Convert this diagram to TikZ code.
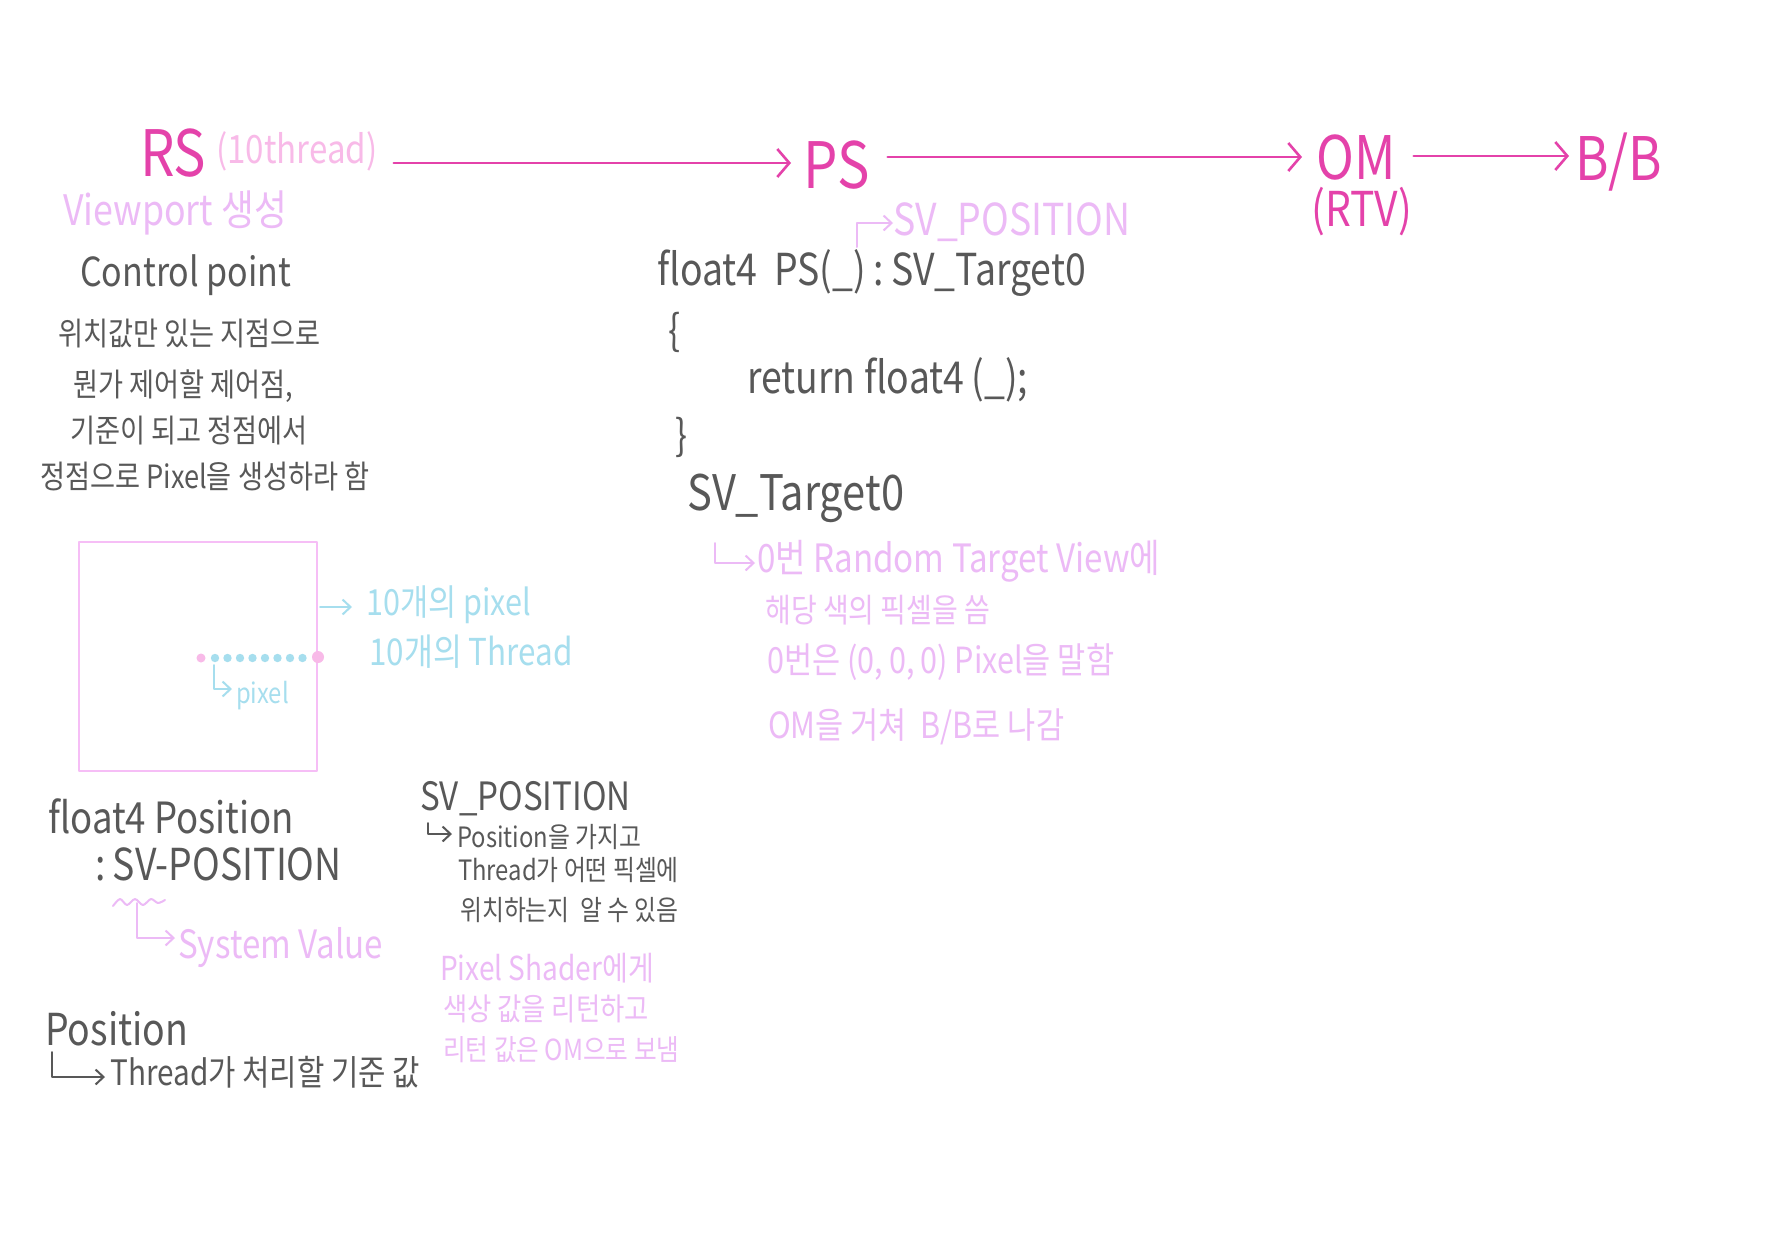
\documentclass[tikz,border=0pt]{standalone}
\usepackage{fontspec}
\setmainfont{Noto Sans CJK KR}[FakeStretch=0.85]
\usetikzlibrary{arrows.meta}
\newcommand\fsz[1]{\fontsize{#1}{#1}\selectfont}
\begin{document}
\begin{tikzpicture}[x=1pt,y=-1pt,line cap=round,line join=round,
  txt/.style={inner sep=0pt,anchor=base west},
  flow/.style={mag,line width=2.6pt,-{Straight Barb[length=12pt,width=28pt]}},
  note/.style={line width=2pt,-{Straight Barb[length=8pt,width=15pt]}}]
  \definecolor{mag}{RGB}{228,66,170}
  \definecolor{pinkl}{RGB}{248,186,232}
  \definecolor{lav}{RGB}{236,186,246}
  \definecolor{ink}{RGB}{88,88,88}
  \definecolor{sky}{RGB}{166,222,238}
  \definecolor{boxc}{RGB}{246,190,246}

  \fill[white] (0,0) rectangle (1784,1250);
  \useasboundingbox (0,0) rectangle (1784,1250);

  % ---- pipeline ----
  \node[txt,mag] (rs) at (140,176) {\fsz{64}RS};
  \node[txt,pinkl] (thr) at (216,163) {\fsz{39}(10thread)};
  \node[txt,mag] (ps) at (803,188) {\fsz{64}PS};
  \node[txt,mag] (om) at (1316,179) {\fsz{60}OM};
  \node[txt,mag] (rtv) at (1311,226) {\fsz{48}(RTV)};
  \node[txt,mag] (bb) at (1575,180) {\fsz{60}B/B};
  \draw[flow] ([xshift=16pt]thr.east |- 0,163) -- ([xshift=-12pt]ps.west |- 0,163);
  \draw[flow] ([xshift=18pt]ps.east |- 0,157) -- ([xshift=-14pt]om.west |- 0,157);
  \draw[flow] ([xshift=18pt]om.east |- 0,156) -- ([xshift=-6pt]bb.west |- 0,156);

  \node[txt,lav] (vp) at (63,225) {\fsz{42}Viewport 생성};
  \node[txt,lav] (svpos) at (893,235) {\fsz{44}SV\_POSITION};
  \draw[lav,note] (857,247) -- (857,223) -- (svpos.west |- 0,223);

  % ---- control point ----
  \node[txt,ink] (cp) at (80,286) {\fsz{40}Control point};
  \node[txt,ink] (cp1) at (58,345) {\fsz{32}위치값만 있는 지점으로};
  \node[txt,ink] (cp2) at (73,396) {\fsz{32}뭔가 제어할 제어점,};
  \node[txt,ink] (cp3) at (70,442) {\fsz{32}기준이 되고 정점에서};
  \node[txt,ink] (cp4) at (40,488) {\fsz{32}정점으로 Pixel을 생성하라 함};

  % ---- pixel shader code ----
  \node[txt,ink] (sig) at (657,285) {\fsz{44}float4~~PS(\_)\,:\,SV\_Target0};
  \node[txt,ink] (lb) at (668,345) {\fsz{42}\{};
  \node[txt,ink] (ret) at (747,393) {\fsz{44}return~float4\,(\_);};
  \node[txt,ink] (rb) at (675,450) {\fsz{42}\}};
  \node[txt,ink] (tgt) at (687,510) {\fsz{49}SV\_Target0};

  \draw[lav,note] (715,543) -- (715,563) -- (755,563);
  \node[txt,lav] (rt1) at (757,572) {\fsz{39}0번 Random Target View에};
  \node[txt,lav] (rt2) at (765,622) {\fsz{33}해당 색의 픽셀을 씀};
  \node[txt,lav] (rt3) at (767,673) {\fsz{36}0번은 (0,\,0,\,0) Pixel을 말함};
  \node[txt,lav] (rt4) at (768,738) {\fsz{36}OM을 거쳐~~B/B로 나감};

  % ---- viewport box ----
  \draw[boxc,line width=2pt] (79,542) rectangle (317,771);
  \fill[pinkl] (201,658) circle (4.5);
  \fill[pinkl] (318,657) circle (6);
  \foreach \x in {215,227.5,...,303} {
    \fill[sky] (\x,658) circle (4.2);
  }
  \draw[sky,note] (214,665) -- (214,689) -- (232,689);
  \node[txt,sky] (px) at (236,703) {\fsz{28}pixel};
  \draw[sky,note] (320,607) -- (352,607);
  \node[txt,sky] (np) at (366,615) {\fsz{36}10개의 pixel};
  \node[txt,sky] (nt) at (369,665) {\fsz{37}10개의 Thread};

  % ---- position notes ----
  \node[txt,ink] (fpos) at (48,833) {\fsz{43}float4 Position};
  \node[txt,ink] (svp) at (95,880) {\fsz{44}:\,SV-POSITION};
  \draw[lav,line width=2pt] plot[smooth] coordinates {(113,906) (120,899) (127,905) (135,899) (143,905) (151,899) (158,903) (165,900)};
  \draw[lav,note] (137,903) -- (137,938) -- (175,938);
  \node[txt,lav] (sysv) at (178,958) {\fsz{39}System Value};

  \node[txt,ink] (pos) at (45,1045) {\fsz{44}Position};
  \draw[ink,note] (52,1052) -- (52,1077) -- (105,1077);
  \node[txt,ink] (posd) at (110,1085) {\fsz{35}Thread가 처리할 기준 값};

  \node[txt,ink] (svp2) at (420,810) {\fsz{39}SV\_POSITION};
  \draw[ink,note] (428,823) -- (428,834) -- (452,834);
  \node[txt,ink] (sv1) at (457,847) {\fsz{28}Position을 가지고};
  \node[txt,ink] (sv2) at (458,880) {\fsz{28}Thread가 어떤 픽셀에};
  \node[txt,ink] (sv3) at (460,920) {\fsz{28}위치하는지~~알 수 있음};

  \node[txt,lav] (psh1) at (440,980) {\fsz{33}Pixel Shader에게};
  \node[txt,lav] (psh2) at (443,1020) {\fsz{31}색상 값을 리턴하고};
  \node[txt,lav] (psh3) at (443,1060) {\fsz{29}리턴 값은 OM으로 보냄};
\end{tikzpicture}
\end{document}
